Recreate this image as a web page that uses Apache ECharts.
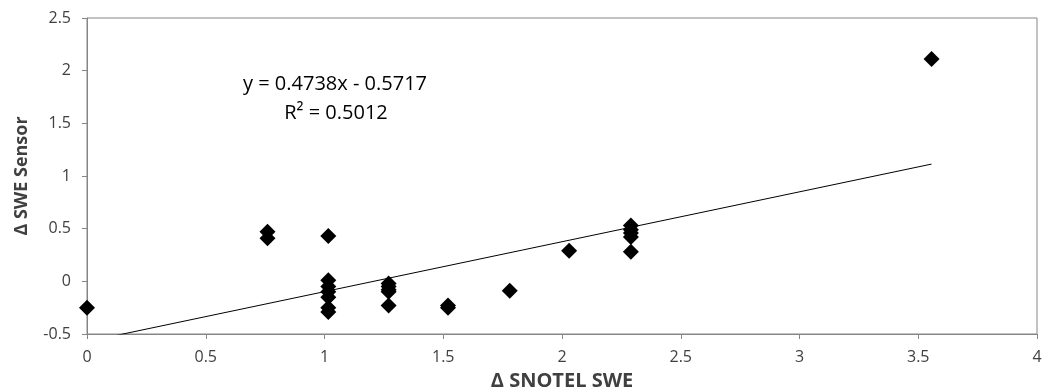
<!DOCTYPE html>
<html>
<head>
<meta charset="utf-8">
<script src="https://cdn.jsdelivr.net/npm/echarts@6/dist/echarts.min.js"></script>
<style>html,body{margin:0;padding:0;background:#fff}#c{width:1042px;height:391px}</style>
</head>
<body>
<div id="c"></div>
<script>
var snotel = [0, 0.76, 0.76, 1.016, 1.016, 1.016, 1.016, 1.016, 1.016, 1.016, 1.27, 1.27, 1.27, 1.27, 1.27, 1.52, 1.52, 1.78, 2.03, 2.29, 2.29, 2.29, 2.29, 2.29, 3.556];
var sensor = [-0.25, 0.47, 0.41, 0.43, 0.01, -0.05, -0.10, -0.15, -0.25, -0.29, -0.02, -0.05, -0.08, -0.10, -0.23, -0.23, -0.25, -0.09, 0.29, 0.53, 0.49, 0.46, 0.42, 0.28, 2.11];
var slope = 0.4738, intercept = -0.5717;
var trendX = [0, 3.556];
var eqText = 'y = 0.4738x - 0.5717';
var r2Text = 'R² = 0.5012';
var xTitle = 'Δ SNOTEL SWE';
var yTitle = 'Δ SWE Sensor';

var pts = snotel.map(function(x, i){ return [x, sensor[i]]; });
var trend = trendX.map(function(x){ return [x, slope * x + intercept]; });
var font = '"Open Sans", sans-serif';
var chart = echarts.init(document.getElementById('c'));
chart.setOption({
  animation: false,
  grid: {left: 87, right: 5, top: 18, bottom: 57, containLabel: false, outerBoundsMode: 'none', show: true, borderColor: '#868686', borderWidth: 1, backgroundColor: 'transparent'},
  xAxis: {
    type: 'value', min: 0, max: 4, interval: 0.5,
    axisLine: {onZero: false, lineStyle: {color: '#868686'}},
    axisTick: {show: true, length: 5, lineStyle: {color: '#868686'}},
    splitLine: {show: false},
    axisLabel: {color: '#404040', fontSize: 16, fontFamily: font, margin: 15},
    name: xTitle, nameLocation: 'middle', nameGap: 37,
    nameTextStyle: {color: '#404040', fontSize: 20, fontWeight: 'bold', fontFamily: font}
  },
  yAxis: {
    type: 'value', min: -0.5, max: 2.5, interval: 0.5,
    axisLine: {show: true, onZero: false, lineStyle: {color: '#868686'}},
    axisTick: {show: true, length: 5, lineStyle: {color: '#868686'}},
    splitLine: {show: false},
    axisLabel: {color: '#404040', fontSize: 16, fontFamily: font, margin: 16},
    name: yTitle, nameLocation: 'middle', nameGap: 56,
    nameTextStyle: {color: '#404040', fontSize: 18, fontWeight: 'bold', fontFamily: font}
  },
  graphic: [
    {type: 'text', x: 335, y: 84, style: {text: eqText, fill: '#000', font: '20px ' + font, align: 'center', verticalAlign: 'middle'}},
    {type: 'text', x: 336, y: 113, style: {text: r2Text, fill: '#000', font: '20px ' + font, align: 'center', verticalAlign: 'middle'}}
  ],
  series: [
    {type: 'line', data: trend, symbol: 'none', clip: true, lineStyle: {color: '#000', width: 1}, silent: true, z: 1},
    {type: 'scatter', data: pts, symbol: 'diamond', symbolSize: 16, itemStyle: {color: '#000', opacity: 1}, z: 2}
  ]
});
</script>
</body>
</html>
